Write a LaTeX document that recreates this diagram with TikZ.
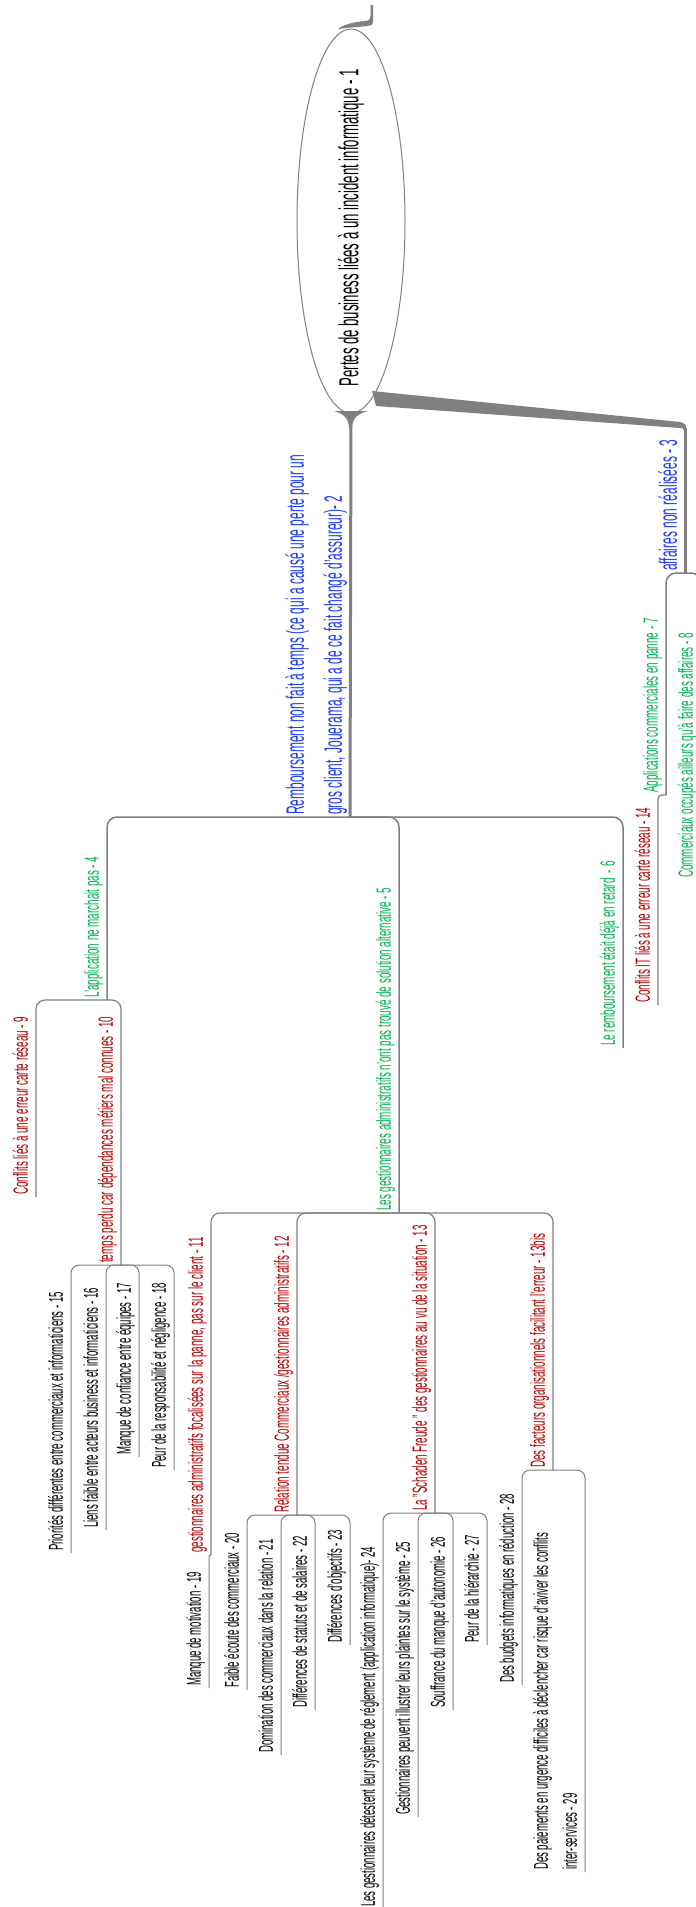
\documentclass[tikz,border=0pt]{standalone}
\usepackage{fontspec}
\setmainfont{Liberation Sans}[FakeStretch=0.48]
\usepackage{tikz}
\usetikzlibrary{shapes.geometric}
\definecolor{linkgray}{RGB}{128,128,128}
\definecolor{topicblue}{RGB}{30,60,250}
\definecolor{topicgreen}{RGB}{0,176,80}
\definecolor{topicred}{RGB}{176,0,0}

\begin{document}
\begin{tikzpicture}[x=1pt,y=-1pt,
  topic/.style={rotate=90,anchor=south west,inner xsep=2pt,inner ysep=4pt,text depth=4pt,align=left},
  rootnode/.style={ellipse,draw=linkgray,line width=1pt,rotate=90,minimum width=384pt,minimum height=108pt,inner sep=0pt,font=\fontsize{27.5}{32}\selectfont},
  lvlA/.style={topic,text=topicblue,font=\fontsize{25}{38}\selectfont},
  lvlB/.style={topic,text=topicgreen,font=\fontsize{20.5}{30}\selectfont},
  lvlC/.style={topic,text=topicred,font=\fontsize{20.5}{28}\selectfont},
  lvlD/.style={topic,font=\fontsize{20}{29}\selectfont},
  linkA/.style={draw=linkgray,line width=3pt},
  linkB/.style={draw=linkgray,line width=1.5pt,rounded corners=10pt},
  linkC/.style={draw=linkgray,line width=1.2pt,rounded corners=9pt},
  linkD/.style={draw=linkgray,line width=1pt,rounded corners=8pt}]
\useasboundingbox (0,0) rectangle (696,1907);
\fill[white] (0,0) rectangle (696,1907);
\clip (0,0) rectangle (696,1907);

\node[rootnode] (root) at (351,221) {\makebox[0pt]{Pertes de business liées à un incident informatique - 1\hspace{14pt}}};

\node[lvlA] (n2) at (350,817) {Remboursement non fait à temps (ce qui a causé une perte pour un\\gros client, Jouerama, qui a de ce fait changé d'assureur)- 2};
\node[lvlA] (n3) at (685,573) {affaires non réalisées - 3};

\node[lvlB] (n4) at (107,1000) {L'application ne marchait pas - 4};
\node[lvlB] (n5) at (399,1213) {Les gestionnaires administratifs n'ont pas trouvé de solution alternative - 5};
\node[lvlB] (n6) at (623,1048) {Le remboursement était déjà en retard~ - 6};
\node[lvlB] (n7) at (666,795) {Applications commerciales en panne - 7};
\node[lvlB] (n8) at (701,880) {Commerciaux occupés ailleurs qu'à faire des affaires - 8};

\node[lvlC] (n9) at (36,1197) {Conflits liés à une erreur carte réseau - 9};
\node[lvlC] (n10) at (121,1265) {temps perdu car dépendances métiers mal connues - 10};
\node[lvlC] (n14) at (658,1005) {Conflits IT liés à une erreur carte réseau - 14};
\node[lvlC] (n11) at (211,1555) {gestionnaires administratifs focalisées sur la panne, pas sur le client - 11};
\node[lvlC] (n12) at (297,1515) {Relation tendue Commerciaux /gestionnaires administratifs - 12};
\node[lvlC] (n13) at (435,1513) {La "Schaden Freude " des gestionnaires au vu de la situation - 13};
\node[lvlC] (n13bis) at (553,1470) {Des facteurs organisationnels facilitant l'erreur - 13bis};

\node[lvlD] (n15) at (71,1553) {Priorités différentes entre commerciaux et informaticiens - 15};
\node[lvlD] (n16) at (106,1530) {Liens faible entre acteurs business et informaticiens - 16};
\node[lvlD] (n17) at (139,1457) {Manque de confiance entre équipes - 17};
\node[lvlD] (n18) at (174,1470) {Peur de la responsabilité et négligence - 18};
\node[lvlD] (n19) at (209,1688) {Manque de motivation - 19};
\node[lvlD] (n20) at (247,1690) {Faible écoute des commerciaux - 20};
\node[lvlD] (n21) at (281,1755) {Domination des commerciaux dans la relation - 21};
\node[lvlD] (n22) at (315,1710) {Différences de statuts et de salaires - 22};
\node[lvlD] (n23) at (350,1645) {Différences d'objectifs - 23};
\node[lvlD] (n24) at (383,1909) {Les gestionnaires détestent leur système de réglement (application informatique)- 24};
\node[lvlD] (n25) at (418,1817) {Gestionnaires peuvent illustrer leurs plaintes sur le système - 25};
\node[lvlD] (n26) at (453,1710) {Souffrance du manque d'autonomie - 26};
\node[lvlD] (n27) at (487,1645) {Peur de la hiérarchie - 27};
\node[lvlD] (n28) at (522,1685) {Des budgets informatiques en réduction - 28};
\node[lvlD] (n29) at (585,1872) {Des paiements en urgence difficiles à déclencher car risque d'aviver les conflits\\inter-services - 29};

\fill[linkgray] (334,411) -- (368,411) .. controls (357,414) and (352.5,418) .. (352,428) -- (349,428) .. controls (348.5,418) and (344,414) .. (334,411) -- cycle;
\draw[linkA] (root.west) -- (n2.south west);
\fill[linkgray] (372,391) -- (680,422) .. controls (685,423) and (686.5,425) .. (686.5,430) -- (683.5,430) .. controls (683.5,428) and (682,428) .. (680,428) -- (376,406) -- cycle;
\coordinate (r3) at (685,428);
\draw[linkA] (r3) -- (n3.south west);
\fill[linkgray] (338,29) .. controls (345,23) and (360,21.5) .. (368,20.5) .. controls (370,20) and (370.5,18) .. (370.5,15) -- (370.5,5) -- (373,5) -- (373,21) .. controls (373,25) and (371,26) .. (368,26) -- (346,28) -- cycle;

\draw[linkB] (n2.south west) -| (n4.south west);
\draw[linkB] (n2.south west) -| (n5.south west);
\draw[linkB] (n2.south west) -| (n6.south west);
\draw[linkB] (n3.south west) -| (n7.south west);
\draw[linkB] (n3.south west) -| (n8.south west);

\draw[linkC] (n4.south west) -| (n9.south west);
\draw[linkC] (n4.south west) -| (n10.south west);
\draw[linkC,rounded corners=4pt] (n7.south west) -| (n14.south west);
\draw[linkC] (n5.south west) -| (n11.south west);
\draw[linkC] (n5.south west) -| (n12.south west);
\draw[linkC] (n5.south west) -| (n13.south west);
\draw[linkC] (n5.south west) -| (n13bis.south west);

\draw[linkD] (n10.south west) -| (n15.south west);
\draw[linkD] (n10.south west) -| (n16.south west);
\draw[linkD] (n10.south west) -| (n17.south west);
\draw[linkD] (n10.south west) -| (n18.south west);
\draw[linkD,rounded corners=1pt] (n11.south west) -| (n19.south west);
\draw[linkD] (n12.south west) -| (n20.south west);
\draw[linkD] (n12.south west) -| (n21.south west);
\draw[linkD] (n12.south west) -| (n22.south west);
\draw[linkD] (n12.south west) -| (n23.south west);
\draw[linkD] (n13.south west) -| (n24.south west);
\draw[linkD] (n13.south west) -| (n25.south west);
\draw[linkD] (n13.south west) -| (n26.south west);
\draw[linkD] (n13.south west) -| (n27.south west);
\draw[linkD] (n13bis.south west) -| (n28.south west);
\draw[linkD] (n13bis.south west) -| (n29.south west);
\end{tikzpicture}
\end{document}
